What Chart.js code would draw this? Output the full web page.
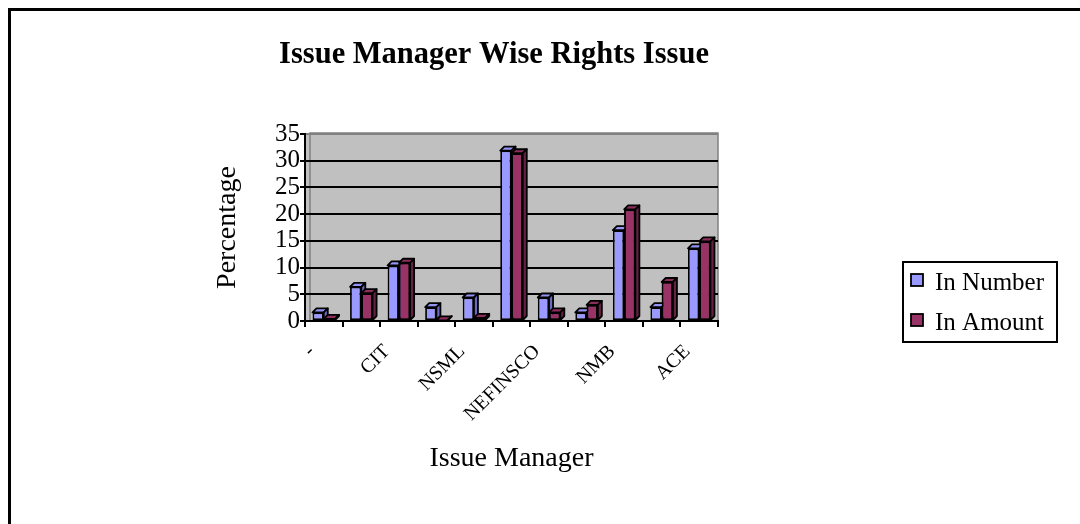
<!DOCTYPE html>
<html><head><meta charset="utf-8">
<script src="https://cdn.jsdelivr.net/npm/chart.js@4.4.1/dist/chart.umd.min.js"></script>
<style>html,body{margin:0;padding:0;background:#fff;}#wrap{position:relative;width:1080px;height:524px;overflow:hidden}</style>
</head><body><div id="wrap"><canvas id="c" width="1080" height="524"></canvas></div>
<script>
// ---- data ----
const categories = ['-', '', 'CIT', '', 'NSML', '', 'NEFINSCO', '', 'NMB', '', 'ACE'];
const inNumber = [1.6, 6.4, 10.4, 2.6, 4.4, 31.9, 4.4, 1.6, 17.0, 2.6, 13.6];
const inAmount = [0.4, 5.2, 10.9, 0.1, 0.6, 31.4, 1.6, 3.0, 20.9, 7.3, 14.9];
const seriesNames = ['In Number', 'In Amount'];
const yMin = 0, yMax = 35, yStep = 5;
const chartTitle = 'Issue Manager Wise Rights Issue';
const xTitle = 'Issue Manager';
const yTitle = 'Percentage';

const SERIF = "'Liberation Serif', 'Times New Roman', serif";
const colors = [
  {front:'#9999FF', top:'#9494f5', side:'#6a6ac0'},
  {front:'#993366', top:'#8c2d5c', side:'#662244'}
];

Chart.defaults.font.family = SERIF;
Chart.defaults.color = '#000';

const bgPlugin = {
  id: 'bgPlugin',
  beforeDraw(chart) {
    const {ctx, chartArea: a} = chart;
    ctx.save();
    ctx.fillStyle = '#fff';
    ctx.fillRect(0, 0, chart.width, chart.height);
    ctx.fillStyle = '#000';
    ctx.fillRect(8, 8, chart.width - 8, 3);
    ctx.fillRect(8, 8, 3, chart.height - 8);
    ctx.fillStyle = '#c0c0c0';
    ctx.fillRect(a.left, a.top - 1, a.right - a.left, a.bottom - a.top + 1);
    ctx.strokeStyle = '#808080';
    ctx.lineWidth = 1.5;
    ctx.strokeRect(a.left + 5, a.top - 1, a.right - a.left - 5, a.bottom - a.top + 1);
    ctx.restore();
  }
};

function faces(ctx, el, c) {
  const d = 4;
  const p = el.getProps(['x', 'y', 'base', 'width'], true);
  const l = p.x - p.width / 2, r = p.x + p.width / 2, t = p.y, b = p.base;
  ctx.beginPath();
  ctx.moveTo(l, t); ctx.lineTo(l + d, t - d); ctx.lineTo(r + d, t - d); ctx.lineTo(r, t); ctx.closePath();
  ctx.fillStyle = c.top; ctx.fill(); ctx.stroke();
  ctx.beginPath();
  ctx.moveTo(r, t); ctx.lineTo(r + d, t - d); ctx.lineTo(r + d, b - d); ctx.lineTo(r, b); ctx.closePath();
  ctx.fillStyle = c.side; ctx.fill(); ctx.stroke();
}

const bars3d = {
  id: 'bars3d',
  afterDatasetsDraw(chart) {
    const ctx = chart.ctx;
    const m0 = chart.getDatasetMeta(0), m1 = chart.getDatasetMeta(1);
    ctx.save();
    ctx.lineJoin = 'round';
    for (let i = 0; i < m0.data.length; i++) {
      ctx.strokeStyle = '#000'; ctx.lineWidth = 1.8;
      faces(ctx, m0.data[i], colors[0]);
      ctx.save(); m1.data[i].draw(ctx); ctx.restore();
      ctx.strokeStyle = '#000'; ctx.lineWidth = 1.8;
      faces(ctx, m1.data[i], colors[1]);
    }
    ctx.restore();
  }
};

const textPlugin = {
  id: 'textPlugin',
  afterDraw(chart) {
    const ctx = chart.ctx;
    ctx.save();
    ctx.fillStyle = '#000';
    ctx.font = 'bold 30.5px ' + SERIF;
    ctx.textAlign = 'center';
    ctx.textBaseline = 'alphabetic';
    ctx.fillText(chartTitle, 494, 63);
    // legend
    ctx.lineWidth = 2;
    ctx.strokeStyle = '#000';
    ctx.strokeRect(903, 262, 154, 80);
    ctx.font = '25px ' + SERIF;
    ctx.textAlign = 'left';
    chart.data.datasets.forEach((ds, i) => {
      const y = 274 + i * 40;
      ctx.fillStyle = ds.backgroundColor;
      ctx.fillRect(911, y, 12, 12);
      ctx.lineWidth = 1.8;
      ctx.strokeRect(911, y, 12, 12);
      ctx.fillStyle = '#000';
      ctx.fillText(ds.label, 935, y + 16);
    });
    ctx.restore();
  }
};

new Chart(document.getElementById('c'), {
  type: 'bar',
  data: {
    labels: categories,
    datasets: [
      {label: seriesNames[0], data: inNumber, backgroundColor: colors[0].front, borderColor: '#000', borderWidth: 1.8, borderSkipped: false},
      {label: seriesNames[1], data: inAmount, backgroundColor: colors[1].front, borderColor: '#000', borderWidth: 1.8, borderSkipped: false}
    ]
  },
  options: {
    responsive: false,
    animation: false,
    layout: {padding: {left: 211, right: 362, top: 134, bottom: 49}},
    datasets: {bar: {categoryPercentage: 0.6, barPercentage: 1.0}},
    plugins: {legend: {display: false}, title: {display: false}, tooltip: {enabled: false}},
    scales: {
      x: {
        ticks: {font: {size: 20}, color: '#000', maxRotation: 45, minRotation: 45, autoSkip: false, padding: 13, labelOffset: -12},
        grid: {drawOnChartArea: false, color: '#000', lineWidth: 2, tickLength: 6, offset: true},
        border: {color: '#000', width: 2},
        title: {display: true, text: xTitle, font: {size: 28}, color: '#000', padding: 0},
        afterFit(s) { s.height = 154; }
      },
      y: {
        min: yMin, max: yMax,
        ticks: {stepSize: yStep, autoSkip: false, font: {size: 25}, color: '#000', padding: 0},
        grid: {color: c => (c.tick && c.tick.value === yMax) ? '#808080' : '#000', lineWidth: 2, tickLength: 5, tickColor: '#000'},
        border: {color: '#000', width: 2},
        title: {display: true, text: yTitle, font: {size: 28}, color: '#000', padding: 0},
        afterFit(s) { s.width = 94; }
      }
    }
  },
  plugins: [bgPlugin, bars3d, textPlugin]
});
</script>
</body></html>
